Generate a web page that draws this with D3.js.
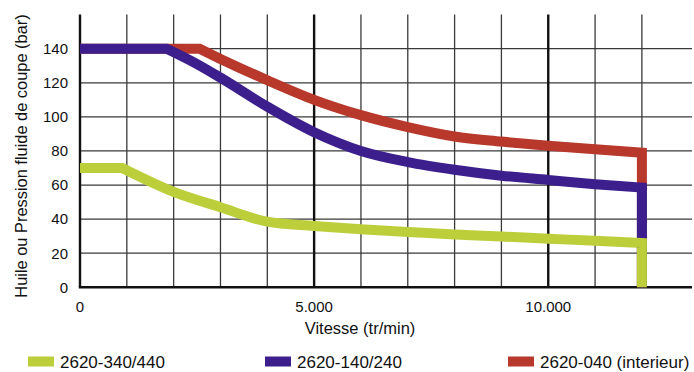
<!DOCTYPE html>
<html>
<head>
<meta charset="utf-8">
<script src="https://cdn.jsdelivr.net/npm/d3@7"></script>
<style>
  html, body { margin: 0; padding: 0; background: #fff; }
  svg { display: block; }
  text { font-family: "Liberation Sans", Arial, Helvetica, sans-serif; fill: #111; }
</style>
</head>
<body>
<svg id="chart" width="694" height="372"></svg>
<script>
// ---- data ----
const xTicks = [0, 5000, 10000];
const xTickLabels = ["0", "5.000", "10.000"];
const xGrid = [1000, 2000, 3000, 4000, 6000, 7000, 8000, 9000, 11000, 12000];
const yTicks = [0, 20, 40, 60, 80, 100, 120, 140];

const greenSpeed = [0, 900, 2000, 3000, 4000, 5000, 6000, 7000, 8000, 9000, 10000, 11000, 12000, 12000];
const greenPressure = [70, 70, 56, 47, 38.5, 36, 34, 32.5, 31, 29.8, 28.5, 27.3, 26, 0];

const blueSpeed = [0, 1850, 2500, 3000, 4000, 5000, 6000, 7000, 8000, 9000, 10000, 11000, 12000, 12000];
const bluePressure = [140, 140, 131, 123, 106, 91, 80, 73.5, 69, 65.5, 63, 60.5, 58.5, 0];

const redSpeed = [0, 2550, 3000, 4000, 5000, 6000, 7000, 8000, 9000, 10000, 11000, 12000, 12000];
const redPressure = [140, 140, 134, 121.5, 110, 101, 94, 88.5, 85.5, 83, 81, 79, 0];

const seriesNames = ["2620-340/440", "2620-140/240", "2620-040 (interieur)"];
const seriesColors = ["#bccf3b", "#3c1f8c", "#b8382c"];

const xTitle = "Vitesse (tr/min)";
const yTitle = "Huile ou Pression fluide de coupe (bar)";

// ---- layout ----
const svg = d3.select("#chart");
const x = d3.scaleLinear().domain([0, 13070]).range([80, 692]);
const y = d3.scaleLinear().domain([0, 160]).range([287.3, 14.6]);

const g = svg.append("g");

// horizontal grid
g.selectAll(".hgrid").data(yTicks.filter(d => d > 0)).join("line")
  .attr("x1", x(0)).attr("x2", x.range()[1])
  .attr("y1", d => y(d)).attr("y2", d => y(d))
  .attr("stroke", "#3a3a3a").attr("stroke-width", 1.3);

// vertical grid
g.selectAll(".vgrid").data(xGrid).join("line")
  .attr("x1", d => x(d)).attr("x2", d => x(d))
  .attr("y1", y(0)).attr("y2", y.range()[1])
  .attr("stroke", "#3a3a3a").attr("stroke-width", 1.3);

// bold vertical lines
g.selectAll(".vbold").data(xTicks).join("line")
  .attr("x1", d => x(d)).attr("x2", d => x(d))
  .attr("y1", y(0)).attr("y2", y.range()[1])
  .attr("stroke", "#111").attr("stroke-width", 2.4);

// bottom axis line
g.append("line")
  .attr("x1", x(0) - 1.2).attr("x2", x.range()[1])
  .attr("y1", y(0)).attr("y2", y(0))
  .attr("stroke", "#111").attr("stroke-width", 2.6);

// series lines: flat start (straight), smooth middle, vertical drop (straight)
const straight = d3.line().x(d => x(d[0])).y(d => y(d[1])).curve(d3.curveLinear);
const smooth = d3.line().x(d => x(d[0])).y(d => y(d[1])).curve(d3.curveMonotoneX);
const series = [
  { sx: redSpeed, sy: redPressure, c: seriesColors[2] },
  { sx: blueSpeed, sy: bluePressure, c: seriesColors[1] },
  { sx: greenSpeed, sy: greenPressure, c: seriesColors[0] }
];
series.forEach(s => {
  const pts = s.sx.map((v, i) => [v, s.sy[i]]);
  const n = pts.length;
  const flat = straight(pts.slice(0, 2));
  const mid = smooth(pts.slice(1, n - 1)).replace(/^M/, "L");
  const drop = straight(pts.slice(n - 2)).replace(/^M[^L]*/, "");
  g.append("path")
    .attr("d", flat + mid + drop)
    .attr("fill", "none")
    .attr("stroke", s.c)
    .attr("stroke-width", 10)
    .attr("stroke-linejoin", "miter")
    .attr("stroke-linecap", "butt");
});

// y tick labels
g.selectAll(".ylab").data(yTicks).join("text")
  .attr("x", 68).attr("y", d => y(d) + 5.3)
  .attr("text-anchor", "end")
  .style("font-size", "15px")
  .text(d => d);

// x tick labels
g.selectAll(".xlab").data(xTicks).join("text")
  .attr("x", d => x(d)).attr("y", 311.5)
  .attr("text-anchor", "middle")
  .style("font-size", "15px")
  .text((d, i) => xTickLabels[i]);

// axis titles
svg.append("text")
  .attr("x", 360).attr("y", 334)
  .attr("text-anchor", "middle")
  .style("font-size", "16.5px")
  .text(xTitle);

svg.append("text")
  .attr("transform", "translate(27,156) rotate(-90)")
  .attr("text-anchor", "middle")
  .style("font-size", "16.4px")
  .text(yTitle);

// legend
const legendX = [28, 265, 508];
seriesNames.forEach((name, i) => {
  svg.append("rect")
    .attr("x", legendX[i]).attr("y", 356.5)
    .attr("width", 26).attr("height", 10)
    .attr("fill", seriesColors[i]);
  svg.append("text")
    .attr("x", legendX[i] + 32).attr("y", 368)
    .style("font-size", "17px")
    .text(name);
});
</script>
</body>
</html>
